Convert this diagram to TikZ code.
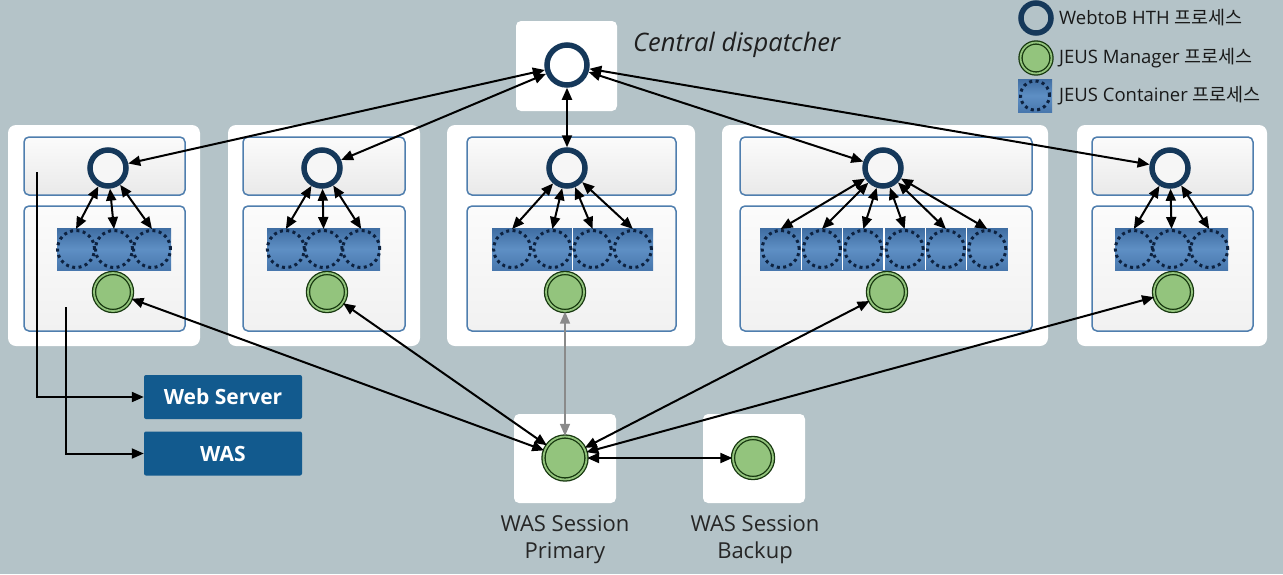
\documentclass[tikz,border=0pt]{standalone}
\usepackage{fontspec}
\setmainfont{Open Sans}
\newfontfamily\krfont{Noto Sans CJK KR}
\usetikzlibrary{arrows.meta}
\definecolor{bgc}{HTML}{B4C3C8}
\definecolor{panelb}{HTML}{4F7EAE}
\definecolor{hthc}{HTML}{15385A}
\definecolor{cellt}{HTML}{3F6DA2}
\definecolor{cellm}{HTML}{5E8FC4}
\definecolor{cellb}{HTML}{4877AD}
\definecolor{dotc}{HTML}{0D2240}
\definecolor{mgrf}{HTML}{93C47D}
\definecolor{mgrd}{HTML}{17380F}
\definecolor{wsb}{HTML}{125A8E}
\definecolor{grayarrow}{HTML}{8A8A8A}
\begin{document}
\begin{tikzpicture}[x=1pt,y=-1pt,
  >={Triangle[length=12pt,width=10pt]},
  outerbox/.style={fill=white, rounded corners=8pt},
  panel/.style={draw=panelb, line width=1.5pt, rounded corners=5pt, top color=gray!3, bottom color=gray!17},
  panellow/.style={draw=panelb, line width=1.5pt, rounded corners=5pt, top color=gray!3, bottom color=gray!11},
  hth/.style={circle, draw=hthc, line width=5.5pt, fill=gray!7, minimum size=36pt, inner sep=0pt},
  mgr/.style={circle, draw=mgrd, line width=1.3pt, double=mgrf, double distance=1.8pt, fill=mgrf, minimum size=38pt, inner sep=0pt},
  cont/.style={circle, draw=dotc, line width=3pt, dash pattern=on 3pt off 3.4pt, minimum size=37pt, inner sep=0pt},
  cellshade/.style={top color=cellt, bottom color=cellb, middle color=cellm},
  conn/.style={<->, line width=2pt, black},
  single/.style={->, line width=2pt, black},
  srvbox/.style={fill=wsb, rounded corners=2pt, text=white, font=\fontsize{21}{24}\selectfont\bfseries, minimum width=158pt, minimum height=44pt, inner sep=0pt},
  legtext/.style={anchor=west, font=\fontsize{18.5}{22}\selectfont, text=black!90, inner sep=0pt},
  sesstext/.style={align=center, font=\fontsize{22}{27}\selectfont, text=black!85, inner sep=0pt}
]
\useasboundingbox (0,0) rectangle (1283,574);
\fill[bgc] (0,0) rectangle (1283,574);

% central dispatcher
\fill[outerbox, rounded corners=5pt] (516,21) rectangle (617,111);
\node[hth, fill=white, minimum size=40pt] (D) at (567,65) {};
\node[anchor=west, inner sep=0pt, font=\fontsize{25.5}{30}\selectfont\itshape, text=black!88] (DT) at (633,45) {Central dispatcher};

% server boxes
\foreach \ox/\oX/\px/\pX/\wx/\mx/\sx/\sw/\sn [count=\k] in {
   8/200/24/185/108/113/57/38/3,
   228/420/243/405/322/327/267/37.7/3,
   447/695/467/676/567/565/492/40.25/4,
   722/1048/740/1032/883/887/760/41.33/6,
   1077/1267/1092/1253/1170/1173/1115/37.7/3} {
  \fill[outerbox] (\ox,125) rectangle (\oX,346);
  \path[panel] (\px,137) rectangle (\pX,195);
  \path[panellow] (\px,206) rectangle (\pX,331);
  \fill[cellshade] (\sx,228) rectangle ({\sx+\sn*\sw},270);
  \ifnum\k=3
    \draw[white, line width=1.2pt] ({\sx+2*\sw},228) -- ({\sx+2*\sw},270);
  \fi
  \ifnum\k=4
    \foreach \j in {1,...,5} \draw[white, line width=1.2pt] ({\sx+\j*\sw},228) -- ({\sx+\j*\sw},270);
  \fi
  \foreach \i in {1,...,\sn} \node[cont] (C\k-\i) at ({\sx+(\i-0.5)*\sw},249) {};
  \node[hth] (W\k) at (\wx,168) {};
  \node[mgr] (M\k) at (\mx,292) {};
  \foreach \i in {1,...,\sn} \draw[conn] (W\k) -- (C\k-\i.north);
}

% web server / WAS
\node[srvbox] (WS) at (223,397) {Web Server};
\node[srvbox] (WAS) at (223,453.5) {WAS};
\coordinate (ws0) at (37,172);
\coordinate (was0) at (66,307);
\draw[single] (ws0) |- (WS.west);
\draw[single] (was0) |- (WAS.west);

% session servers
\fill[outerbox, rounded corners=5pt] (514,414) rectangle (616,503);
\fill[outerbox, rounded corners=5pt] (703,414) rectangle (805,503);
\node[mgr, minimum size=43pt] (P) at (565,458) {};
\node[mgr, minimum size=40pt] (B) at (753,458) {};
\node[sesstext] (PT) at (565,540) {WAS Session\\Primary};
\node[sesstext] (BT) at (755,540) {WAS Session\\Backup};

% dispatcher connections
\foreach \k in {1,...,5} \draw[conn] (D) -- (W\k);

% manager connections
\draw[conn] (M1) -- (P);
\draw[conn] (M2) -- (P);
\draw[<->, line width=1.6pt, grayarrow] (M3) -- (P);
\draw[conn] (M4) -- (P);
\draw[conn] (M5) -- (P);
\draw[conn] (P) -- (B);

% legend
\node[hth, fill=none, minimum size=30pt] (LW) at (1036,18) {};
\node[legtext] (LWT) at (1059,18) {WebtoB HTH {\krfont 프로세스}};
\node[mgr, minimum size=31pt] (LM) at (1036,58) {};
\node[legtext] (LMT) at (1059,58) {JEUS Manager {\krfont 프로세스}};
\fill[cellshade] (1018,79) rectangle (1052,112);
\node[cont, minimum size=29pt] (LC) at (1035,95.5) {};
\node[legtext] (LCT) at (1059,96) {JEUS Container {\krfont 프로세스}};
\end{tikzpicture}
\end{document}
